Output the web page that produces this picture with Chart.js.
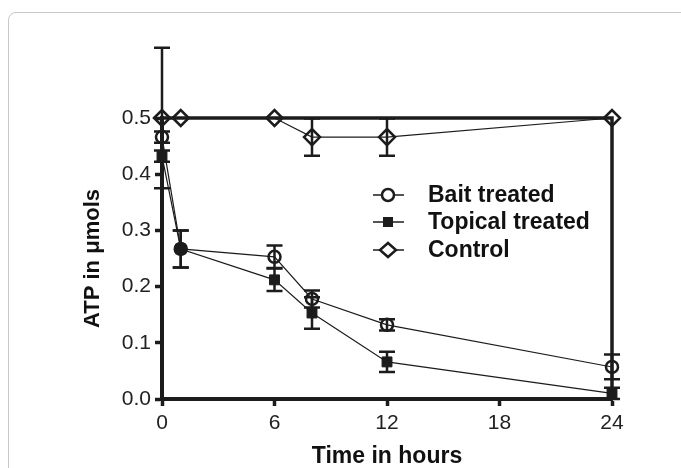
<!DOCTYPE html>
<html>
<head>
<meta charset="utf-8">
<script src="https://cdn.jsdelivr.net/npm/chart.js@4"></script>
<style>
  html, body { margin: 0; padding: 0; background: #fff; }
  #wrap { position: relative; width: 681px; height: 468px; overflow: hidden; }
  #frame { position: absolute; left: 8px; top: 12px; width: 720px; height: 520px;
           border: 1px solid #c8c8c8; border-radius: 8px; }
  #chart { position: absolute; left: 0; top: 0; }
</style>
</head>
<body>
<div id="wrap">
  <div id="frame"></div>
  <canvas id="chart" width="681" height="468"></canvas>
</div>
<script>
const hours = [0, 1, 6, 8, 12, 24];
const xTicks = [0, 6, 12, 18, 24];
const yTicks = [0, 0.1, 0.2, 0.3, 0.4, 0.5];

const bait = [0.466, 0.267, 0.253, 0.178, 0.132, 0.057];
const baitErr = [0.01, 0.033, 0.02, 0.015, 0.01, 0.022];
const topical = [0.432, 0.267, 0.212, 0.153, 0.066, 0.01];
const topicalErr = [0.01, 0.033, 0.02, 0.028, 0.018, 0.01];
const control = [0.5, 0.5, 0.5, 0.466, 0.466, 0.5];
const controlErr = [0.125, 0, 0, 0.033, 0.033, 0];

const ink = '#1c1c1c';
const fontFamily = "'Liberation Sans', Arial, sans-serif";

function toPoints(values) {
    return hours.map((h, i) => ({ x: h, y: values[i] }));
}

// error bars drawn under the markers
const errorBars = {
    id: 'errorBars',
    beforeDatasetsDraw(chart) {
        const ctx = chart.ctx;
        const xs = chart.scales.x, ys = chart.scales.y;
        ctx.save();
        ctx.strokeStyle = ink;
        ctx.lineWidth = 2.5;
        chart.data.datasets.forEach(ds => {
            ds.errors.forEach((e, i) => {
                if (!e) return;
                const px = xs.getPixelForValue(hours[i]);
                const top = ys.getPixelForValue(ds.data[i].y + e);
                const bot = ys.getPixelForValue(ds.data[i].y - e);
                ctx.beginPath();
                ctx.moveTo(px, top); ctx.lineTo(px, bot);
                ctx.moveTo(px - 8, top); ctx.lineTo(px + 8, top);
                ctx.moveTo(px - 8, bot); ctx.lineTo(px + 8, bot);
                ctx.stroke();
            });
        });
        ctx.restore();
    }
};

// top and right frame lines, legend inside the plot
const frameAndLegend = {
    id: 'frameAndLegend',
    afterDraw(chart) {
        const ctx = chart.ctx;
        const a = chart.chartArea;
        ctx.save();
        ctx.strokeStyle = ink;
        ctx.lineWidth = 3.5;
        ctx.beginPath();
        ctx.moveTo(a.left, a.top);
        ctx.lineTo(a.right, a.top);
        ctx.lineTo(a.right, a.bottom);
        ctx.stroke();

        const rows = [195, 222, 250];
        ctx.font = 'bold 23px ' + fontFamily;
        ctx.textBaseline = 'middle';
        chart.data.datasets.forEach((ds, i) => {
            const y = rows[i];
            ctx.strokeStyle = ink;
            ctx.lineWidth = 1.5;
            ctx.beginPath();
            ctx.moveTo(373, y); ctx.lineTo(404, y);
            ctx.stroke();
            ctx.lineWidth = 2.5;
            ctx.fillStyle = '#fff';
            ctx.beginPath();
            if (ds.pointStyle === 'circle') {
                ctx.arc(388, y, 6, 0, Math.PI * 2);
                ctx.fill(); ctx.stroke();
            } else if (ds.pointStyle === 'rect') {
                ctx.fillStyle = ink;
                ctx.fillRect(383, y - 5, 10, 10);
            } else {
                ctx.moveTo(388, y - 7); ctx.lineTo(396, y); ctx.lineTo(388, y + 7); ctx.lineTo(380, y);
                ctx.closePath();
                ctx.fill(); ctx.stroke();
            }
            ctx.fillStyle = '#111';
            ctx.fillText(ds.label, 428, y + 1);
        });
        ctx.restore();
    }
};

const gridOpts = {
    display: true,
    drawOnChartArea: false,
    drawTicks: true,
    tickLength: 7,
    tickWidth: 3.5,
    tickColor: ink
};

new Chart(document.getElementById('chart').getContext('2d'), {
    type: 'line',
    data: {
        datasets: [{
            label: 'Bait treated',
            data: toPoints(bait),
            errors: baitErr,
            borderColor: ink,
            borderWidth: 1.2,
            pointStyle: 'circle',
            pointRadius: 6,
            pointBorderWidth: 2.5,
            pointBorderColor: ink,
            pointBackgroundColor: 'rgba(255,255,255,0)',
            clip: false,
            fill: false
        }, {
            label: 'Topical treated',
            data: toPoints(topical),
            errors: topicalErr,
            borderColor: ink,
            borderWidth: 1.2,
            pointStyle: 'rect',
            pointRadius: 7,
            pointBorderWidth: 1,
            pointBorderColor: ink,
            pointBackgroundColor: ink,
            clip: false,
            fill: false
        }, {
            label: 'Control',
            data: toPoints(control),
            errors: controlErr,
            borderColor: ink,
            borderWidth: 1.2,
            pointStyle: 'rectRot',
            pointRadius: 8,
            pointBorderWidth: 2.5,
            pointBorderColor: ink,
            pointBackgroundColor: 'rgba(255,255,255,0)',
            clip: false,
            fill: false
        }]
    },
    options: {
        responsive: false,
        animation: false,
        layout: { padding: { left: 0, top: 118, right: 69, bottom: 0 } },
        plugins: { legend: { display: false }, tooltip: { enabled: false } },
        scales: {
            x: {
                type: 'linear',
                min: 0,
                max: 24,
                afterBuildTicks: s => { s.ticks = xTicks.map(v => ({ value: v })); },
                afterFit: s => { s.height = 69; },
                ticks: { color: '#222', padding: 5, font: { family: fontFamily, size: 21 } },
                grid: gridOpts,
                border: { display: true, width: 4, color: ink },
                title: {
                    display: true,
                    text: 'Time in hours',
                    color: '#111',
                    padding: { top: 0, bottom: 0 },
                    font: { family: fontFamily, size: 23, weight: 'bold', lineHeight: 1 }
                }
            },
            y: {
                min: 0,
                max: 0.5,
                afterBuildTicks: s => { s.ticks = yTicks.map(v => ({ value: v })); },
                afterFit: s => { s.width = 162; },
                ticks: { color: '#222', padding: 4, font: { family: fontFamily, size: 21 },
                         callback: v => v.toFixed(1) },
                grid: gridOpts,
                border: { display: true, width: 4, color: ink },
                title: {
                    display: true,
                    text: 'ATP in μmols',
                    color: '#111',
                    padding: { top: 80, bottom: 0 },
                    font: { family: fontFamily, size: 22, weight: 'bold', lineHeight: 1.2 }
                }
            }
        }
    },
    plugins: [errorBars, frameAndLegend]
});
</script>
</body>
</html>
